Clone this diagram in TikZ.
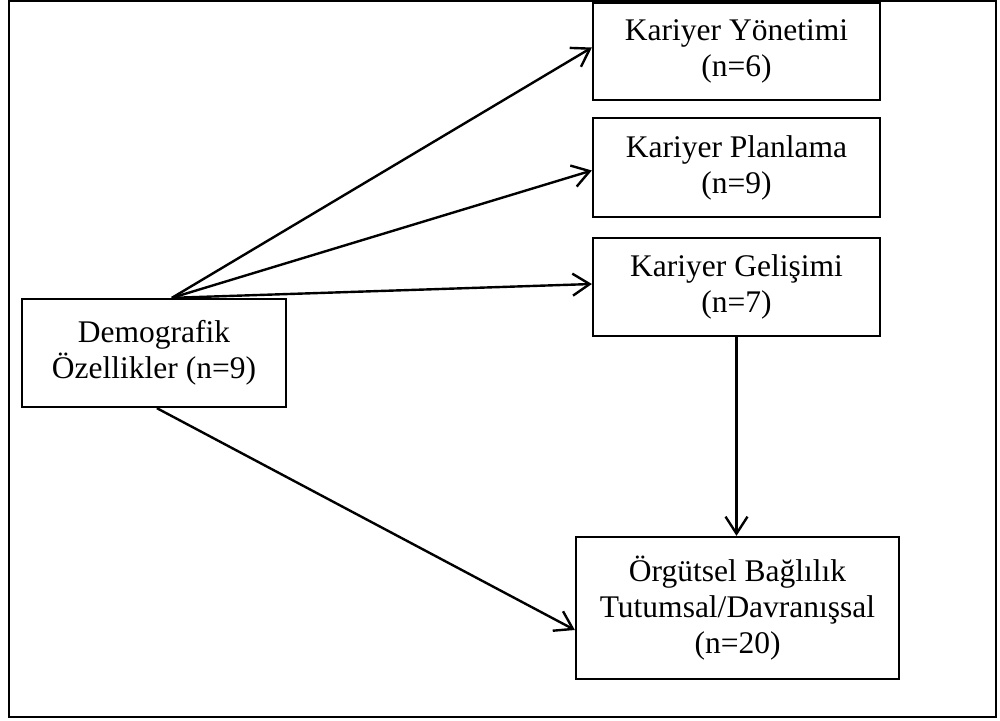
\documentclass[tikz,border=0pt]{standalone}
\usepackage{fontspec}
\setmainfont{Liberation Serif}
\usetikzlibrary{arrows.meta,calc}
\begin{document}
\begin{tikzpicture}[x=1pt,y=-1pt,
  box/.style={draw,line width=2.3pt,inner sep=0pt,align=center,
    font=\fontsize{31.5}{36}\selectfont},
  link/.style={line width=2.4pt,-{Straight Barb[length=17pt,width=22pt,line width=2.4pt]}}]
  \useasboundingbox (0,0) rectangle (1000,720);
  % outer frame
  \draw[line width=2.6pt] (9,1) rectangle (996,717);

  % boxes
  \node[box,minimum width=287pt,minimum height=97pt] (b1) at (736.5,51.5)
    {Kariyer Yönetimi\\(n=6)};
  \node[box,minimum width=287pt,minimum height=99pt] (b2) at (736.5,167.5)
    {Kariyer Planlama\\(n=9)};
  \node[box,minimum width=287pt,minimum height=98pt] (b3) at (736.5,287)
    {Kariyer Gelişimi\\(n=7)};
  \node[box,minimum width=264pt,minimum height=108pt] (demo) at (154,353)
    {Demografik\\Özellikler (n=9)};
  \node[box,minimum width=323pt,minimum height=142pt] (org) at (737.5,608)
    {Örgütsel Bağlılık\\Tutumsal/Davranışsal\\(n=20)};

  % fan point on top of the demographic box
  \coordinate (fan) at ([xshift=151pt]demo.north west);
  \coordinate (low) at ([xshift=136pt]demo.south west);

  % connectors
  \draw[link] (fan) -- ([yshift=4pt]b1.west);
  \draw[link] (fan) -- ([yshift=-3pt]b2.west);
  \draw[link] (fan) -- ([yshift=3pt]b3.west);
  \draw[link] (low) -- ([yshift=-22pt]org.west);
  \draw[link] (b3.south) -- (b3.south |- org.north);
\end{tikzpicture}
\end{document}
